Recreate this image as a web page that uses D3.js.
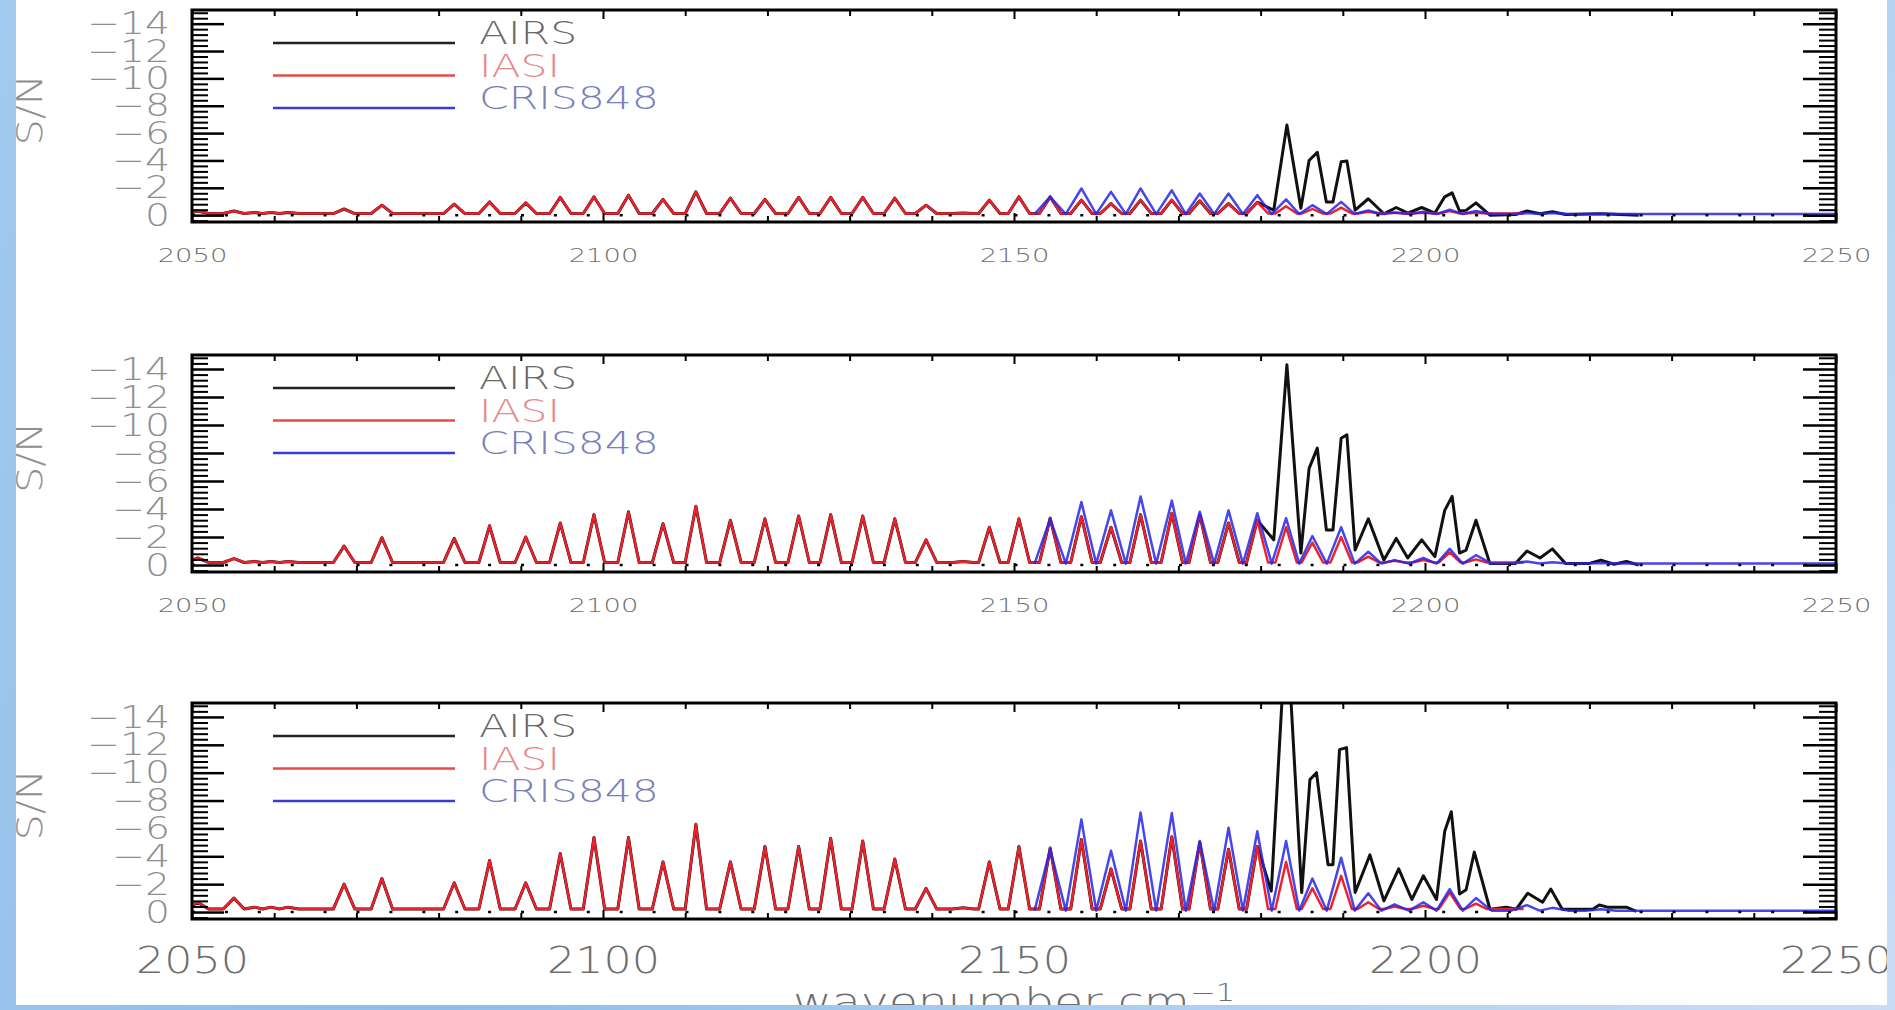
<!DOCTYPE html>
<html>
<head>
<meta charset="utf-8">
<script src="https://cdn.jsdelivr.net/npm/d3@7"></script>
<style>
  body { margin: 0; overflow: hidden; background: #fff; }
</style>
</head>
<body>
<script>
// ---- data ----
var xTicks = [2050, 2100, 2150, 2200, 2250];
var yTicks = [0, 2, 4, 6, 8, 10, 12, 14];
var yTickLabels = ["0", "\u22122", "\u22124", "\u22126", "\u22128", "\u221210", "\u221212", "\u221214"];
var seriesNames = ["AIRS", "IASI", "CRIS848"];

// IASI line centres (cm-1) and peak S/N in each panel
var iasiLines = [2050.7, 2055.1, 2057.6, 2059.6, 2061.7, 2068.5, 2073.1, 2081.9, 2086.2, 2090.6,
  2094.8, 2098.9, 2103.1, 2107.3, 2111.3, 2115.5, 2119.7, 2123.8, 2127.7, 2131.6,
  2135.5, 2139.3, 2143.8, 2147.0, 2150.6, 2154.4, 2158.2, 2161.8, 2165.4, 2169.2,
  2172.6, 2176.1, 2179.6, 2183.1, 2186.3, 2189.8, 2193.1, 2196.3, 2199.8, 2203.0, 2206.2];
var iasiPanel1 = [0.3, 0.3, 0.2, 0.2, 0.2, 0.45, 0.73, 0.8, 0.97, 0.9,
  1.3, 1.34, 1.46, 1.15, 1.7, 1.25, 1.15, 1.3, 1.3, 1.3,
  1.25, 0.73, 0.15, 1.1, 1.34, 1.34, 1.1, 0.85, 1.1, 1.1,
  1.05, 0.85, 0.95, 0.65, 0.45, 0.55, 0.25, 0.18, 0.18, 0.3, 0.18];
var iasiPanel2 = [0.5, 0.45, 0.25, 0.25, 0.25, 1.35, 1.95, 1.9, 2.8, 2.0,
  3.0, 3.6, 3.8, 2.95, 4.2, 3.2, 3.3, 3.5, 3.6, 3.5,
  3.3, 1.8, 0.25, 2.7, 3.3, 3.35, 3.45, 2.7, 3.6, 3.7,
  3.6, 3.0, 3.2, 2.7, 1.6, 2.0, 0.6, 0.3, 0.35, 0.9, 0.4];
var iasiPanel3 = [0.7, 1.0, 0.35, 0.35, 0.35, 2.0, 2.4, 2.1, 3.7, 2.1,
  4.2, 5.35, 5.35, 3.6, 6.3, 3.6, 4.7, 4.7, 5.3, 5.1,
  3.8, 1.7, 0.3, 3.6, 4.7, 4.6, 5.2, 3.1, 5.1, 5.4,
  5.0, 4.5, 4.7, 3.6, 1.7, 2.6, 0.7, 0.4, 0.45, 1.4, 0.6];
var iasiBase = [0.12, 0.18, 0.22];

// CrIS line centres and peak S/N in each panel
var crisLines = [2154.4, 2158.2, 2161.8, 2165.4, 2169.2, 2172.6, 2176.1, 2179.6, 2183.1, 2186.3,
  2189.8, 2193.1, 2196.3, 2199.8, 2203.0, 2206.2, 2212.4, 2215.5, 2221.4];
var crisPanel1 = [1.34, 1.95, 1.7, 1.95, 1.82, 1.58, 1.58, 1.46, 1.15, 0.73,
  0.97, 0.35, 0.2, 0.25, 0.4, 0.3, 0.15, 0.15, 0.1];
var crisPanel2 = [3.3, 4.5, 3.9, 4.9, 4.6, 3.8, 3.9, 3.7, 3.35, 2.07,
  2.7, 0.95, 0.35, 0.5, 1.15, 0.7, 0.25, 0.2, 0.15];
var crisPanel3 = [4.5, 6.65, 4.4, 7.15, 7.1, 5.1, 6.05, 5.8, 5.1, 2.4,
  3.9, 1.35, 0.55, 0.7, 1.65, 1.0, 0.5, 0.3, 0.2];
var crisBase = [0.08, 0.1, 0.1];

// AIRS channels beyond 2181 cm-1 (below that AIRS lies under the IASI trace)
var airsPanel1 = [[2181.6, 0.36], [2183.2, 6.6], [2184.9, 0.5], [2185.9, 4.0], [2186.9, 4.6],
  [2188.0, 0.97], [2188.8, 0.97], [2189.8, 3.9], [2190.5, 3.96], [2191.5, 0.36],
  [2193.1, 1.2], [2195.0, 0.1], [2196.5, 0.56], [2197.9, 0.15], [2199.6, 0.56],
  [2201.2, 0.15], [2202.4, 1.34], [2203.3, 1.63], [2204.2, 0.3], [2205.0, 0.35],
  [2206.2, 0.9], [2207.9, 0.0], [2211.0, 0.05], [2212.4, 0.3], [2214.0, 0.1],
  [2215.5, 0.25], [2217.1, 0.05], [2221.4, 0.1], [2226.0, 0.0]];
var airsPanel2 = [[2181.6, 1.8], [2183.2, 14.3], [2184.9, 0.85], [2185.9, 6.9], [2186.9, 8.35],
  [2188.0, 2.5], [2188.8, 2.5], [2189.8, 9.05], [2190.5, 9.3], [2191.5, 1.07],
  [2193.1, 3.3], [2195.0, 0.35], [2196.5, 1.9], [2197.9, 0.5], [2199.6, 1.8],
  [2201.2, 0.6], [2202.4, 3.9], [2203.3, 4.9], [2204.2, 0.85], [2205.0, 1.07],
  [2206.2, 3.2], [2207.9, 0.1], [2211.0, 0.1], [2212.4, 1.0], [2214.0, 0.5],
  [2215.5, 1.15], [2217.1, 0.1], [2219.9, 0.1], [2221.4, 0.35], [2223.0, 0.05],
  [2224.5, 0.25], [2226.0, 0.0]];
var airsPanel3 = [[2181.3, 1.5], [2182.7, 16.2], [2183.6, 16.2], [2185.0, 1.4], [2186.0, 9.5],
  [2186.8, 10.0], [2188.2, 3.4], [2188.8, 3.4], [2189.6, 11.65], [2190.45, 11.8],
  [2191.5, 1.4], [2193.3, 4.1], [2195.0, 0.8], [2196.8, 3.1], [2198.4, 0.9],
  [2199.8, 2.6], [2201.4, 0.9], [2202.4, 5.8], [2203.2, 7.2], [2204.2, 1.3],
  [2205.0, 1.6], [2206.0, 4.3], [2207.9, 0.2], [2209.9, 0.35], [2211.1, 0.2],
  [2212.5, 1.35], [2214.3, 0.7], [2215.3, 1.65], [2216.7, 0.2], [2220.4, 0.2],
  [2221.2, 0.5], [2222.2, 0.35], [2224.5, 0.35], [2225.7, 0.05]];

var iasiPanels = [iasiPanel1, iasiPanel2, iasiPanel3];
var crisPanels = [crisPanel1, crisPanel2, crisPanel3];
var airsPanels = [airsPanel1, airsPanel2, airsPanel3];

// ---- layout ----
var W = 1895, H = 1010;
var left = 192, right = 1836;
var panels = [
  { top: 10, bottom: 222, labelSize: 20, labelScale: 1.37, labelPad: 26 },
  { top: 355, bottom: 572, labelSize: 20, labelScale: 1.37, labelPad: 26 },
  { top: 703, bottom: 919, labelSize: 37, labelScale: 1.2, labelPad: 28 }
];
var font = "'DejaVu Sans ExtraLight', 'DejaVu Sans', sans-serif";
var colors = { airs: "#111111", iasi: "#f0202a", cris: "#2626e6" };
var legendLine = ["#222222", "#e84a4a", "#3b3bd6"];
var legendText = ["#6a6a6a", "#e58a8a", "#7a80bb"];

var svg = d3.select("body").append("svg")
  .attr("width", W)
  .attr("height", H);
var defs = svg.append("defs");

var sky = defs.append("linearGradient")
  .attr("id", "sky")
  .attr("gradientUnits", "userSpaceOnUse")
  .attr("x1", 0).attr("y1", 0).attr("x2", W).attr("y2", H);
sky.append("stop").attr("offset", 0).attr("stop-color", "#a3caef");
sky.append("stop").attr("offset", 0.4).attr("stop-color", "#8ebde9");
sky.append("stop").attr("offset", 0.75).attr("stop-color", "#b2d2f3");
sky.append("stop").attr("offset", 1).attr("stop-color", "#c9ddf6");

svg.append("rect").attr("width", W).attr("height", H).attr("fill", "#fff");

var x = d3.scaleLinear().domain([2050, 2250]).range([left, right]);
var xMinor = d3.range(2060, 2250, 10).filter(function(d) { return d % 50 !== 0; });
var yMinor = d3.range(-1, 38).filter(function(k) { return k % 5 !== 0; }).map(function(k) { return k * 0.4; });

// triangle-ish peaks: base, top, base for every line centre
function peakPoints(centres, values, base, halfW) {
  var pts = [];
  centres.forEach(function(c, i) {
    var gl = i > 0 ? (c - centres[i - 1]) / 2 : halfW;
    var gr = i < centres.length - 1 ? (centres[i + 1] - c) / 2 : halfW;
    pts.push([c - Math.min(halfW, gl), base]);
    pts.push([c, values[i]]);
    pts.push([c + Math.min(halfW, gr), base]);
  });
  return pts;
}

function styleAxis(sel, width) {
  sel.select(".domain").remove();
  sel.selectAll(".tick line").attr("stroke", "#000").attr("stroke-width", width);
}

panels.forEach(function(p, k) {
  var y = d3.scaleLinear().domain([-0.5, 15]).range([p.bottom, p.top]);
  var line = d3.line()
    .x(function(d) { return x(d[0]); })
    .y(function(d) { return y(d[1]); });
  var g = svg.append("g");

  defs.append("clipPath").attr("id", "clip" + k)
    .append("rect")
    .attr("x", left).attr("y", p.top)
    .attr("width", right - left).attr("height", p.bottom - p.top);
  var plot = g.append("g").attr("clip-path", "url(#clip" + k + ")");

  // AIRS: follows IASI up to 2180, then its own channels
  var airsPts = [[2050, iasiBase[k]]].concat(
    peakPoints(iasiLines.filter(function(c) { return c < 2180; }),
      iasiPanels[k], iasiBase[k], 1.3));
  airsPts.pop();
  airsPts = airsPts.concat(airsPanels[k]);
  plot.append("path")
    .attr("d", line(airsPts))
    .attr("fill", "none").attr("stroke", colors.airs)
    .attr("stroke-width", 3).attr("stroke-linejoin", "round");

  var iasiPts = [[2050, iasiBase[k]]]
    .concat(peakPoints(iasiLines, iasiPanels[k], iasiBase[k], 1.3))
    .concat([[2212, iasiBase[k]]]);
  plot.append("path")
    .attr("d", line(iasiPts))
    .attr("fill", "none").attr("stroke", colors.iasi)
    .attr("stroke-width", 2.4).attr("stroke-linejoin", "round");

  var crisPts = peakPoints(crisLines, crisPanels[k], crisBase[k], 1.9)
    .concat([[2250, crisBase[k]]]);
  plot.append("path")
    .attr("d", line(crisPts))
    .attr("fill", "none").attr("stroke", colors.cris).attr("stroke-opacity", 0.85)
    .attr("stroke-width", 2.5).attr("stroke-linejoin", "round");

  // dotted zero line
  plot.append("path")
    .attr("d", line([[2050, 0], [2250, 0]]))
    .attr("stroke", "#000").attr("stroke-width", 2.5)
    .attr("stroke-dasharray", "3 29.9");

  // left axis
  g.append("g").attr("transform", "translate(" + left + ",0)")
    .call(d3.axisLeft(y).tickValues(yMinor).tickSize(-16).tickFormat(""))
    .call(styleAxis, 2);
  var yl = g.append("g").attr("transform", "translate(" + left + ",0)")
    .call(d3.axisLeft(y).tickValues(yTicks).tickSize(-32).tickPadding(22)
      .tickFormat(function(d, i) { return yTickLabels[i]; }))
    .call(styleAxis, 2.5);
  yl.selectAll("text")
    .attr("x", -22 / 1.25)
    .attr("transform", "scale(1.25,1)")
    .attr("font-family", font).attr("font-weight", 200).attr("font-size", 31.5)
    .attr("fill", "#8f8f8f");

  // right axis
  g.append("g").attr("transform", "translate(" + right + ",0)")
    .call(d3.axisRight(y).tickValues(yMinor).tickSize(-17).tickFormat(""))
    .call(styleAxis, 2);
  g.append("g").attr("transform", "translate(" + right + ",0)")
    .call(d3.axisRight(y).tickValues(yTicks).tickSize(-33).tickFormat(""))
    .call(styleAxis, 2.5);

  // bottom and top axes
  g.append("g").attr("transform", "translate(0," + p.bottom + ")")
    .call(d3.axisBottom(x).tickValues(xMinor).tickSize(-6).tickFormat(""))
    .call(styleAxis, 2);
  var xb = g.append("g").attr("transform", "translate(0," + p.bottom + ")")
    .call(d3.axisBottom(x).tickValues(xTicks).tickSize(-9).tickPadding(p.labelPad)
      .tickFormat(d3.format("d")))
    .call(styleAxis, 2);
  xb.selectAll("text")
    .attr("transform", "scale(" + p.labelScale + ",1)")
    .attr("font-family", font).attr("font-weight", 200).attr("font-size", p.labelSize)
    .attr("fill", "#6e6e6e");
  g.append("g").attr("transform", "translate(0," + p.top + ")")
    .call(d3.axisTop(x).tickValues(xMinor).tickSize(-6).tickFormat(""))
    .call(styleAxis, 2);
  g.append("g").attr("transform", "translate(0," + p.top + ")")
    .call(d3.axisTop(x).tickValues(xTicks).tickSize(-9).tickFormat(""))
    .call(styleAxis, 2);

  // frame
  g.append("rect")
    .attr("x", left).attr("y", p.top)
    .attr("width", right - left).attr("height", p.bottom - p.top)
    .attr("fill", "none").attr("stroke", "#000").attr("stroke-width", 3);

  // legend
  var offsets = [33, 65.5, 98];
  seriesNames.forEach(function(name, i) {
    var ly = p.top + offsets[i];
    g.append("line")
      .attr("x1", 273).attr("x2", 455).attr("y1", ly).attr("y2", ly)
      .attr("stroke", legendLine[i]).attr("stroke-width", 2.5);
    g.append("text")
      .attr("transform", "translate(479," + (ly + 1) + ") scale(1.35,1)")
      .attr("font-family", font).attr("font-weight", 200).attr("font-size", 31.5)
      .attr("fill", legendText[i])
      .text(name);
  });

  // y title
  g.append("text")
    .attr("transform", "translate(42," + ((p.top + p.bottom) / 2 - 6) + ") rotate(-90) scale(1.15,1)")
    .attr("text-anchor", "middle")
    .attr("font-family", font).attr("font-weight", 200).attr("font-size", 36)
    .attr("fill", "#8f8f8f")
    .text("S/N");
});

// x title (bottom half hidden by the slide background)
var xt = svg.append("text")
  .attr("transform", "translate(" + x(2150) + ",1015) scale(1.28,1)")
  .attr("text-anchor", "middle")
  .attr("font-family", font).attr("font-weight", 200).attr("font-size", 37)
  .attr("fill", "#6e6e6e")
  .text("wavenumber  cm");
xt.append("tspan").attr("dy", -14).attr("font-size", 24).text("\u22121");

// slide background around the picture
svg.append("rect").attr("x", 0).attr("y", 0).attr("width", 16).attr("height", H).attr("fill", "url(#sky)");
svg.append("rect").attr("x", 1887).attr("y", 0).attr("width", W - 1887).attr("height", H).attr("fill", "url(#sky)");
svg.append("rect").attr("x", 0).attr("y", 1005).attr("width", W).attr("height", H - 1005).attr("fill", "url(#sky)");
</script>
</body>
</html>
